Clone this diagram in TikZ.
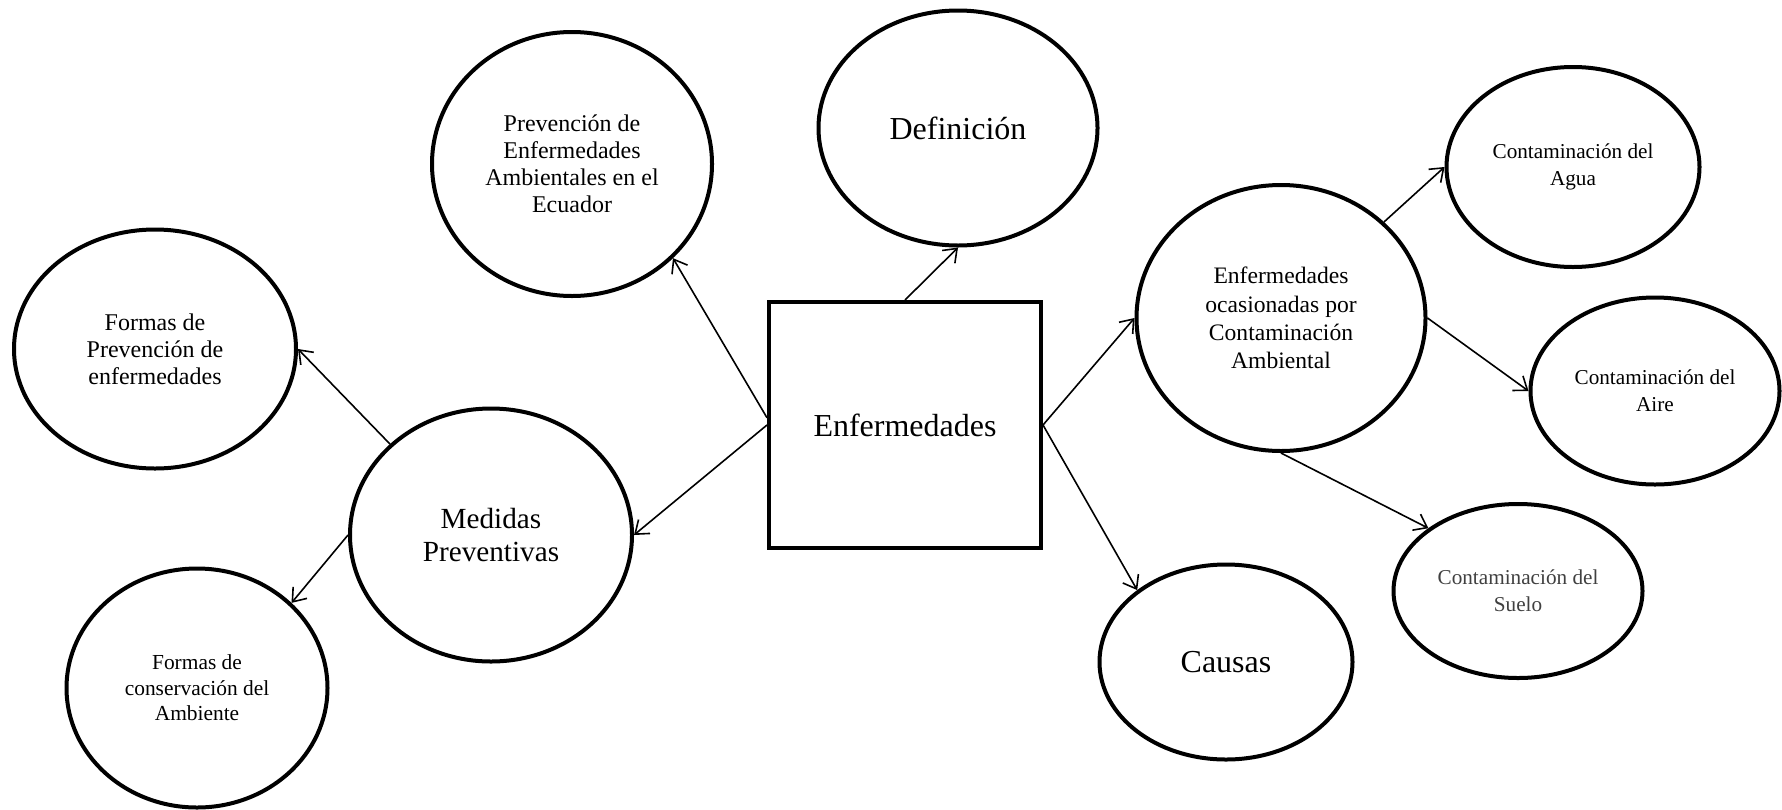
\documentclass[tikz,border=0pt]{standalone}
\usepackage{fontspec}
\setmainfont{Liberation Serif}
\usetikzlibrary{shapes.geometric,arrows.meta}

\newcommand{\bigtxt}{\fontsize{16}{19}\selectfont}
\newcommand{\medtxt}{\fontsize{14.6}{16.5}\selectfont}
\newcommand{\midtxt}{\fontsize{12}{13.5}\selectfont}
\newcommand{\smalltxt}{\fontsize{10.6}{13.3}\selectfont}

\tikzset{
  bubble/.style={ellipse, draw, line width=2pt, inner sep=0pt, align=center},
  link/.style={-{Straight Barb[length=6pt,width=9pt]}, line width=0.8pt},
}

\begin{document}
\begin{tikzpicture}[x=0.5pt,y=-0.5pt]
            \useasboundingbox (0,0) rectangle (1782,809);
            \begin{scope}[every node/.style={bubble}]

                \node[minimum width=140pt, minimum height=132pt, font=\midtxt] (ecuador) at (572,164) {Prevención de\\Enfermedades\\Ambientales en el\\Ecuador};
                \node[minimum width=139.5pt, minimum height=117.5pt, font=\bigtxt] (def) at (958,128) {Definición};
                \node[minimum width=144.5pt, minimum height=133pt, font=\fontsize{11.8}{14.2}\selectfont] (ocas) at (1281,318) {Enfermedades\\ocasionadas por\\Contaminación\\Ambiental};
                \node[minimum width=126.5pt, minimum height=100pt, font=\smalltxt] (agua) at (1573,167) {Contaminación del\\Agua};
                \node[minimum width=124.5pt, minimum height=93.5pt, font=\smalltxt] (aire) at (1655,391) {Contaminación del\\Aire};
                \node[minimum width=124.5pt, minimum height=87pt, font=\smalltxt, text=black!75] (suelo) at (1518,591) {Contaminación del\\Suelo};
                \node[minimum width=126.5pt, minimum height=97.5pt, font=\bigtxt] (causas) at (1226,662) {Causas};
                \node[minimum width=141pt, minimum height=126.5pt, font=\medtxt] (medidas) at (491,535) {Medidas\\Preventivas};
                \node[minimum width=141pt, minimum height=119.5pt, font=\midtxt] (fprev) at (155,349) {Formas de\\Prevención de\\enfermedades};
                \node[minimum width=130.5pt, minimum height=119.5pt, font=\fontsize{10.7}{12.8}\selectfont] (fcons) at (197,688) {Formas de\\conservación del\\Ambiente};

            \end{scope}
            \node[draw, line width=2pt, minimum width=136pt, minimum height=123pt, font=\bigtxt] (enf) at (905,425) {Enfermedades};

            \path[link] (enf.north) edge (def.south);
            \path[link] (enf.177) edge (ecuador.-43);
            \path[link] (enf.west) edge (medidas.east);
            \path[link] (enf.east) edge (ocas.west);
            \path[link] (enf.east) edge (causas.141);
            \path[link] (ocas.43) edge (agua.west);
            \path[link] (ocas.east) edge (aire.west);
            \path[link] (ocas.south) edge (suelo.145);
            \path[link] (medidas.138) edge (fprev.east);
            \path[link] (medidas.west) edge (fcons.42);
        \end{tikzpicture}
\end{document}
